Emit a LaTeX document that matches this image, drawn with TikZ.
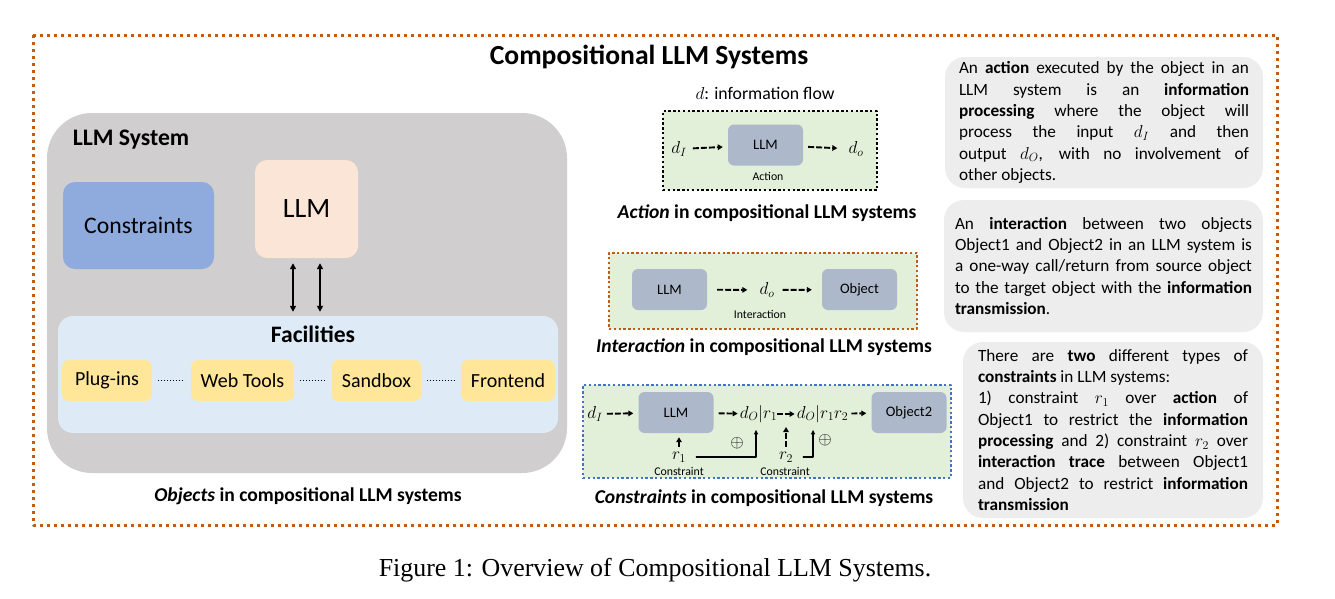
\documentclass[tikz,border=0pt]{standalone}
\usepackage{fontspec}
\setmainfont{Carlito}
\newfontfamily\capfont{Liberation Serif}
\usepackage{amsmath}
\usetikzlibrary{arrows.meta}

\definecolor{frameorange}{HTML}{C55A11}
\definecolor{sysgray}{HTML}{D0CECE}
\definecolor{conblue}{HTML}{8FAADC}
\definecolor{llmpeach}{HTML}{FBE5D6}
\definecolor{facblue}{HTML}{DEEBF7}
\definecolor{facyellow}{HTML}{FFE699}
\definecolor{panelgreen}{HTML}{E2F0D9}
\definecolor{objgray}{HTML}{ADB9CA}
\definecolor{notegray}{HTML}{EDEDED}
\definecolor{dotblue}{HTML}{4472C4}

\newcommand{\fs}[1]{\fontsize{#1}{1.2\dimexpr #1pt\relax}\selectfont}

\begin{document}
\begin{tikzpicture}[
			x=1pt, y=-1pt,
			line cap=round,
			line join=round,
			every node/.style={inner sep=0pt},
			frame/.style={draw=frameorange, line width=3pt, line cap=butt, dash pattern=on 3pt off 4pt},
			panel/.style={fill=panelgreen, line width=2.4pt, line cap=butt, dash pattern=on 2.4pt off 2.4pt},
			objbox/.style={rounded corners=12pt},
			smallbox/.style={fill=objgray, rounded corners=6pt, minimum width=75pt, minimum height=41pt, font=\fs{14.5}},
			facbox/.style={fill=facyellow, rounded corners=7pt, minimum height=41pt, font=\fs{20}},
			note/.style={fill=notegray, rounded corners=20pt, align=justify, font=\fontsize{17.2}{21.3}\selectfont},
			caption/.style={font=\bfseries\fs{19.6}},
			tiny/.style={font=\fs{11.8}},
			mathlbl/.style={font=\fs{17}},
			flow/.style={-{Triangle[length=5pt,width=5.5pt]}, line width=1.9pt, line cap=butt, dash pattern=on 6pt off 2pt},
			route/.style={-{Triangle[length=4.5pt,width=4pt]}, line width=1.2pt},
			dbl/.style={{Triangle[length=6pt,width=6pt]}-{Triangle[length=6pt,width=6pt]}, line width=1.5pt},
			dotline/.style={line width=1pt, line cap=butt, dash pattern=on 1pt off 2pt}
			]
			\useasboundingbox[fill=white] (0,0) rectangle (1335,598);
			
			% frame and title
			\draw[frame] (33,35) rectangle (1277,525);
			\node[font=\bfseries\fs{27.6}] (title) at (649,57) {Compositional LLM Systems};
			
			% objects
			\node[
			fill=sysgray,
			rounded corners=45pt,
			minimum width=520pt,
			minimum height=360pt
			] (sys) at (307,293) {};
			\node[font=\bfseries\fs{23.7}] (systitle) at (131,140) {LLM System};
			\node[
			objbox,
			fill=conblue,
			minimum width=151pt,
			minimum height=87pt,
			font=\fs{23.7}
			] (cons) at (138.5,225.5) {Constraints};
			\node[
			objbox,
			fill=llmpeach,
			minimum width=103pt,
			minimum height=98pt,
			font=\fs{28}
			] (llm) at (306.5,209) {LLM};
			\node[
			fill=facblue,
			rounded corners=15pt,
			minimum width=500pt,
			minimum height=117pt
			] (fac) at (308,374.5) {};
			\node[font=\bfseries\fs{23.6}] (factitle) at (313,334) {Facilities};
			\node[facbox, minimum width=90pt] (plug) at (107,380.5) {Plug-ins};
			\node[facbox, minimum width=103pt] (web) at (242.5,380.5) {Web Tools};
			\node[facbox, minimum width=90pt] (sand) at (376.5,380.5) {Sandbox};
			\node[facbox, minimum width=94pt] (front) at (508,380.5) {Frontend};
			\draw[dotline, shorten <=6pt, shorten >=6pt] (plug) -- (web);
			\draw[dotline, shorten <=6pt, shorten >=6pt] (web) -- (sand);
			\draw[dotline, shorten <=5pt, shorten >=6pt] (sand) -- (front);
			\draw[dbl, shorten <=5pt, shorten >=4pt] ([xshift=-13.5pt]llm.south) -- ([xshift=-13.5pt]llm.south |- fac.north);
			\draw[dbl, shorten <=5pt, shorten >=4pt] ([xshift=13.5pt]llm.south) -- ([xshift=13.5pt]llm.south |- fac.north);
			\node[caption] (capobj) at (308,496) {\textit{Objects} in compositional LLM systems};
			
			% action
			\node[font=\fs{17.7}] (legend) at (765,93) {$d$: information flow};
			\node[panel, draw=black, minimum width=214pt, minimum height=79pt] (actpanel) at (770,150.5) {};
			\node[smallbox] (llmA) at (765.5,145) {LLM};
			\node[mathlbl] (dIA) at (679,149) {$d_I$};
			\node[mathlbl] (doA) at (856,149) {$d_o$};
			\draw[flow, shorten <=6pt, shorten >=5pt] (dIA) -- (llmA);
			\draw[flow, shorten <=5pt, shorten >=11pt] (llmA) -- (doA);
			\node[tiny] (actlabel) at (768,176) {Action};
			\node[caption] (capact) at (767,213) {\textit{Action} in compositional LLM systems};
			
			% interaction
			\node[panel, draw=frameorange, minimum width=308pt, minimum height=76pt] (intpanel) at (763,291) {};
			\node[smallbox] (llmI) at (669.5,289.5) {LLM};
			\node[smallbox] (objI) at (859.5,289.5) {Object};
			\node[mathlbl] (doI) at (767,290) {$d_o$};
			\draw[flow, shorten <=10pt, shorten >=12pt] (llmI) -- (doI);
			\draw[flow, shorten <=8pt, shorten >=10pt] (doI) -- (objI);
			\node[tiny] (intlabel) at (760,314) {Interaction};
			\node[caption] (capint) at (764,347) {\textit{Interaction} in compositional LLM systems};
			
			% constraints
			\node[panel, draw=dotblue, minimum width=368pt, minimum height=93pt] (conpanel) at (767,431.5) {};
			\node[mathlbl] (dIC) at (595,414) {$d_I$};
			\node[smallbox] (llmC) at (676,412.5) {LLM};
			\node[mathlbl] (drA) at (758.5,414) {$d_O|r_1$};
			\node[mathlbl] (drB) at (822.5,414) {$d_O|r_1r_2$};
			\node[smallbox] (objC) at (909,412.5) {Object2};
			\draw[flow, shorten <=4pt, shorten >=5pt] (dIC) -- (llmC);
			\draw[flow, shorten <=5pt, shorten >=2pt] (llmC) -- (drA);
			\draw[flow, shorten <=0pt, shorten >=2pt] (drA) -- (drB) coordinate[midway] (mid);
			\draw[flow, shorten <=3pt, shorten >=5pt] (drB) -- (objC);
			\node[mathlbl] (r1) at (679,457) {$r_1$};
			\node[mathlbl] (r2) at (786,457) {$r_2$};
			\node[tiny] (conA) at (679,471) {Constraint};
			\node[tiny] (conB) at (785,471) {Constraint};
			\draw[flow, shorten <=5pt, shorten >=4pt] (r1.north) -- (r1 |- llmC.south);
			\draw[flow, shorten <=5pt, shorten >=13pt] (r2.north) -- (r2.north |- mid);
			\draw[route, shorten <=10pt, shorten >=7pt] (r1.east) -| ([xshift=-2.5pt]drA.south);
			\draw[route, shorten <=10pt, shorten >=7pt] (r2.east) -| ([xshift=-9.5pt]drB.south);
			\node[font=\fs{19}] (plusA) at (737,443) {$\oplus$};
			\node[font=\fs{19}] (plusB) at (825,440) {$\oplus$};
			\node[caption] (capcon) at (764,498) {\textit{Constraints} in compositional LLM systems};
			
			% notes
			\node[
			note,
			text width=290pt,
			minimum height=131pt,
			inner xsep=14pt
			] (noteact) at (1104,122.5) {An \textbf{action} executed by the object in an\linebreak LLM system is an \textbf{information}\linebreak \textbf{processing} where the object will\linebreak process the input $d_I$ and then\linebreak output $d_O$, with no involvement of\linebreak other objects.};
			\node[
			note,
			text width=297pt,
			minimum height=132pt,
			inner xsep=11pt
			] (noteint) at (1103.5,266) {An \textbf{interaction} between two objects\linebreak Object1 and Object2 in an LLM system is\linebreak a one-way call/return from source object\linebreak to the target object with the \textbf{information}\linebreak \textbf{transmission}.};
			\node[
			note,
			text width=270pt,
			minimum height=176pt,
			inner xsep=15pt
			] (notecon) at (1113,430) {There are \textbf{two} different types of\linebreak \textbf{constraints} in LLM systems:\\ 1) constraint $r_1$ over \textbf{action} of\linebreak Object1 to restrict the \textbf{information}\linebreak \textbf{processing} and 2) constraint $r_2$ over\linebreak \textbf{interaction trace} between Object1\linebreak and Object2 to restrict \textbf{information}\linebreak \textbf{transmission}};
			
			\node[font=\capfont\fs{25.9}] (figcap) at (655,570) {Figure 1: Overview of Compositional LLM Systems.};
		\end{tikzpicture}
\end{document}
